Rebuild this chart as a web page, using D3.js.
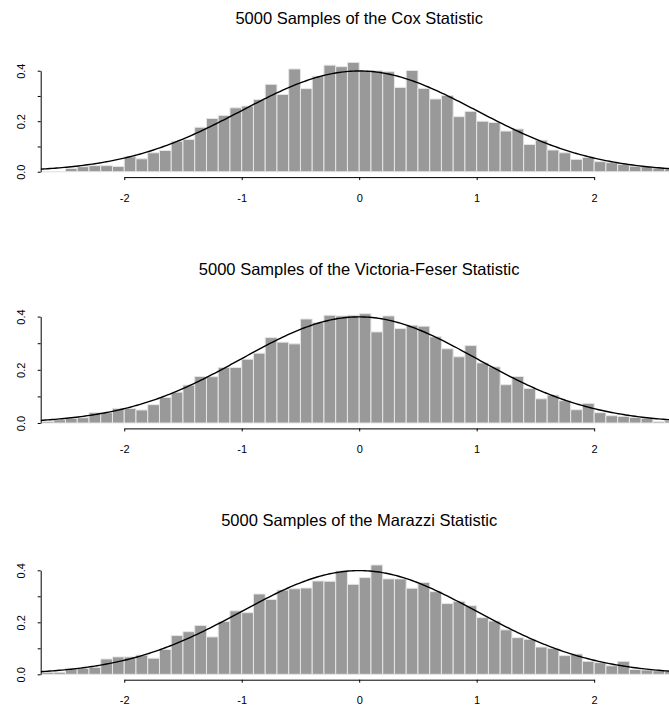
<!DOCTYPE html>
<html>
<head>
<meta charset="utf-8">
<script src="https://cdn.jsdelivr.net/npm/d3@7"></script>
<style>
  body { margin: 0; background: #fff; }
  text { font-family: "Liberation Sans", Arial, sans-serif; fill: #000; }
</style>
</head>
<body>
<div id="chart"></div>
<script>
// left edge of each 0.1-wide histogram bin
const binStarts = [
  -2.7, -2.6, -2.5, -2.4, -2.3, -2.2, -2.1, -2.0, -1.9, -1.8, -1.7, -1.6, -1.5, -1.4,
  -1.3, -1.2, -1.1, -1.0, -0.9, -0.8, -0.7, -0.6, -0.5, -0.4, -0.3, -0.2, -0.1,
  0.0, 0.1, 0.2, 0.3, 0.4, 0.5, 0.6, 0.7, 0.8, 0.9, 1.0, 1.1, 1.2, 1.3, 1.4,
  1.5, 1.6, 1.7, 1.8, 1.9, 2.0, 2.1, 2.2, 2.3, 2.4, 2.5, 2.6
]
const binWidth = 0.1

const coxDensity = [
  0, 0, 0.013, 0.02, 0.024, 0.024, 0.021, 0.059, 0.051, 0.075, 0.084, 0.121, 0.128, 0.176,
  0.211, 0.223, 0.253, 0.26, 0.286, 0.346, 0.306, 0.407, 0.329, 0.378, 0.422, 0.416, 0.433,
  0.40, 0.40, 0.396, 0.334, 0.401, 0.33, 0.288, 0.302, 0.218, 0.239, 0.20, 0.195, 0.161, 0.169, 0.108,
  0.125, 0.086, 0.075, 0.049, 0.057, 0.04, 0.036, 0.029, 0.022, 0.02, 0.015, 0.012
]

const victoriaFeserDensity = [
  0.006, 0.0125, 0.0175, 0.02, 0.039, 0.039, 0.055, 0.055, 0.049, 0.069, 0.096, 0.116, 0.1425, 0.175,
  0.174, 0.209, 0.209, 0.24, 0.2625, 0.321, 0.304, 0.2975, 0.391, 0.3775, 0.405, 0.4025, 0.405,
  0.411, 0.3425, 0.4025, 0.355, 0.3675, 0.364, 0.324, 0.279, 0.249, 0.291, 0.226, 0.211, 0.144, 0.175, 0.13,
  0.091, 0.105, 0.084, 0.05, 0.074, 0.039, 0.0275, 0.025, 0.021, 0.0175, 0.005, 0.009
]

const marazziDensity = [
  0.008, 0.008, 0.023, 0.023, 0.027, 0.059, 0.067, 0.067, 0.074, 0.062, 0.096, 0.149, 0.164, 0.188,
  0.144, 0.203, 0.244, 0.237, 0.309, 0.288, 0.324, 0.329, 0.332, 0.359, 0.358, 0.397, 0.346,
  0.372, 0.4205, 0.367, 0.367, 0.331, 0.353, 0.318, 0.272, 0.281, 0.264, 0.218, 0.205, 0.171, 0.141, 0.135,
  0.105, 0.10, 0.072, 0.078, 0.05, 0.045, 0.033, 0.05, 0.019, 0.0167, 0.014, 0.013
]

const titles = [
  '5000 Samples of the Cox Statistic',
  '5000 Samples of the Victoria-Feser Statistic',
  '5000 Samples of the Marazzi Statistic'
]
const xTicks = [-2, -1, 0, 1, 2]
const yTicks = [0, 0.1, 0.2, 0.3, 0.4]
const yLabelled = [0, 0.2, 0.4]

const width = 669
const height = 706
const panelStep = 251.3
const plotLeft = 40.7
const plotRight = 677.7
const plotTop = 58
const plotHeight = 118.1

const svg = d3.select('#chart')
  .append('svg')
  .attr('width', width)
  .attr('height', height)

const xScale = d3.scaleLinear()
  .domain([-2.711, 2.711])
  .range([plotLeft, plotRight])

// standard normal density for the overlaid curve
const dnorm = v => Math.exp(-v * v / 2) / Math.sqrt(2 * Math.PI)
const curveXs = d3.range(-2.711, 2.72, 0.02)

const panels = [coxDensity, victoriaFeserDensity, marazziDensity]

panels.forEach((values, i) => {
  const top = plotTop + i * panelStep
  const bottom = top + plotHeight
  const m = d3.max(values)

  const yScale = d3.scaleLinear()
    .domain([-0.04 * m, 1.04 * m])
    .range([bottom, top])

  const g = svg.append('g')

  // clip to plot region
  svg.append('clipPath')
    .attr('id', `clip-${i}`)
    .append('rect')
    .attr('x', plotLeft)
    .attr('y', top)
    .attr('width', plotRight - plotLeft)
    .attr('height', plotHeight)

  const plot = g.append('g').attr('clip-path', `url(#clip-${i})`)

  // Bars
  plot.selectAll('.bar')
    .data(values.map((v, k) => ({ x0: binStarts[k], v })))
    .enter()
    .append('path')
    .attr('class', 'bar')
    .attr('d', d => {
      const x0 = xScale(d.x0)
      const x1 = xScale(d.x0 + binWidth)
      const y0 = yScale(0)
      const y1 = yScale(d.v)
      return `M${x0},${y0}V${y1}H${x1}V${y0}Z`
    })
    .attr('fill', '#999999')
    .attr('stroke', '#e6e6e6')
    .attr('stroke-width', 1)

  // Normal curve
  const line = d3.line()
    .x(v => xScale(v))
    .y(v => yScale(dnorm(v)))

  plot.append('path')
    .datum(curveXs)
    .attr('d', line)
    .attr('fill', 'none')
    .attr('stroke', '#000')
    .attr('stroke-width', 1.4)

  // X axis (line spans first to last tick, like R)
  const xAxisScale = d3.scaleLinear()
    .domain([-2, 2])
    .range([xScale(-2), xScale(2)])

  const xAxis = g.append('g')
    .attr('transform', `translate(0, ${bottom + 1})`)
    .call(d3.axisBottom(xAxisScale).tickValues(xTicks).tickSize(3).tickSizeOuter(0).tickFormat(d => String(d)))
  xAxis.select('.domain').attr('stroke', '#000')
  xAxis.selectAll('text')
    .attr('y', 24.8)
    .attr('dy', 0)
    .attr('font-size', '11px')
    .attr('font-family', '"Liberation Sans", Arial, sans-serif')

  // Y axis
  const yAxisScale = d3.scaleLinear()
    .domain([0, 0.4])
    .range([yScale(0), yScale(0.4)])

  const yAxis = g.append('g')
    .attr('transform', `translate(${plotLeft}, 0)`)
    .call(d3.axisLeft(yAxisScale)
      .tickValues(yTicks)
      .tickSize(3)
      .tickSizeOuter(0)
      .tickFormat(d => yLabelled.includes(d) ? d3.format('.1f')(d) : ''))
  yAxis.selectAll('text')
    .attr('x', 0)
    .attr('dy', 0)
    .attr('text-anchor', 'middle')
    .attr('transform', 'translate(-15.7, 0) rotate(-90)')
    .attr('font-size', '11px')
    .attr('font-family', '"Liberation Sans", Arial, sans-serif')

  // Title
  g.append('text')
    .attr('x', (plotLeft + plotRight) / 2)
    .attr('y', 23.7 + i * panelStep)
    .attr('text-anchor', 'middle')
    .attr('font-size', '16.5px')
    .text(titles[i])
})
</script>
</body>
</html>
